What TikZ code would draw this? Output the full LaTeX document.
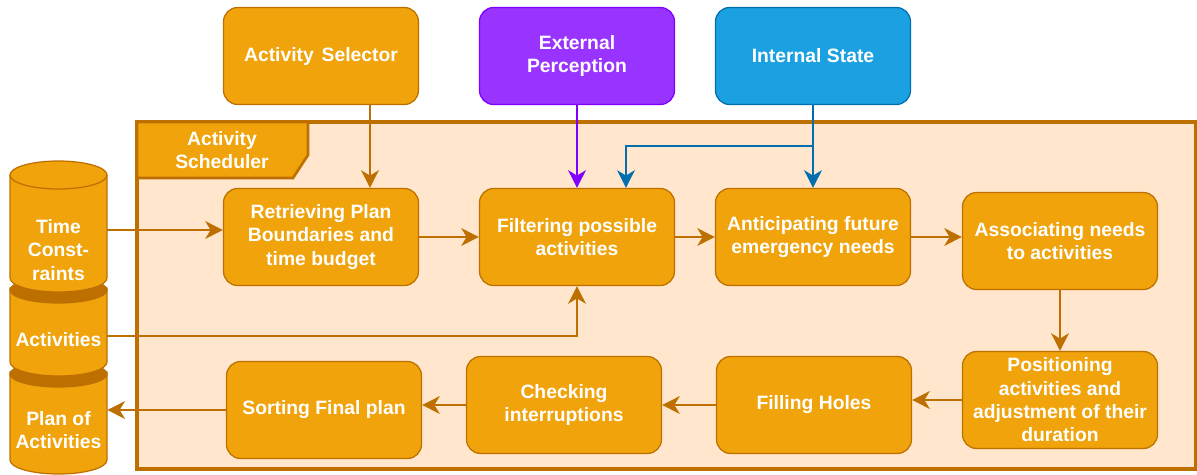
\documentclass[tikz,border=0pt]{standalone}
\usepackage{fontspec}
\setmainfont{Liberation Sans}
\usetikzlibrary{arrows.meta}
\definecolor{boxfill}{HTML}{F0A30A}
\definecolor{boxline}{HTML}{BD7000}
\definecolor{bgfill}{HTML}{FFE6CC}
\definecolor{purfill}{HTML}{9933FF}
\definecolor{purline}{HTML}{7F00FF}
\definecolor{bluefill}{HTML}{1BA1E2}
\definecolor{blueline}{HTML}{006EAF}

\begin{document}
\begin{tikzpicture}[x=0.02cm, y=-0.02cm, >={Stealth[length=10pt, width=10pt, inset=3pt]},
  font=\bfseries\fontsize{11}{13.3}\selectfont,
  blk/.style={draw=boxline, fill=boxfill, text=white, line width=0.7pt, rounded corners=8pt,
    minimum width=3.9cm, minimum height=1.94cm, align=center},
  link/.style={->, draw=boxline, line width=1.5pt},
  cyl/.style={draw=boxline, fill=boxfill, line width=0.7pt},
  lbl/.style={text=white, align=center, minimum width=1.94cm, inner sep=0pt}]

\useasboundingbox (0,0) rectangle (1197,474);

% scheduler frame
\draw[draw=boxline, fill=bgfill, line width=1.8pt] (137,122) rectangle (1196,469);
\draw[draw=boxline, fill=boxfill, line width=1.5pt] (137,122) -- (308,122) -- (308,155) -- (293,178) -- (137,178) -- cycle;
\node[text=white, align=center] (sched) at (222,150) {Activity\\Scheduler};

% data stores
\draw[cyl] (10,372) -- (10,460) arc[start angle=180, end angle=0, x radius=48.5, y radius=14] -- (107,372) -- cycle;
\draw[cyl, fill=boxline] (58.5,374) ellipse [x radius=48.5, y radius=13];
\draw[cyl] (10,288) -- (10,362) arc[start angle=180, end angle=0, x radius=48.5, y radius=14] -- (107,288) -- cycle;
\draw[cyl, fill=boxline] (58.5,290) ellipse [x radius=48.5, y radius=13];
\draw[cyl] (10,175) -- (10,278) arc[start angle=180, end angle=0, x radius=48.5, y radius=14] -- (107,175) arc[start angle=0, end angle=-180, x radius=48.5, y radius=14] -- cycle;
\draw[boxline, line width=0.7pt] (10,175) arc[start angle=180, end angle=0, x radius=48.5, y radius=14];

\node[lbl] (tcons) at (58.5,250) {Time\\Const-\\raints};
\node[lbl] (acts) at (58.5,340) {Activities};
\node[lbl] (plan) at (58.5,430) {Plan of\\Activities};

% inputs
\node[blk] (sel) at (321,56) {Activity\hspace{0.4em}Selector};
\node[blk, fill=purfill, draw=purline] (ext) at (577,56) {External\\Perception};
\node[blk, fill=bluefill, draw=blueline] (int) at (813,56) {Internal State};

% first row
\node[blk] (ret) at (321,237) {Retrieving Plan\\Boundaries and\\time budget};
\node[blk] (filt) at (577,237) {Filtering possible\\activities};
\node[blk] (ant) at (813,237) {Anticipating future\\emergency needs};
\node[blk] (asc) at (1060,241) {Associating needs\\to activities};

% second row
\node[blk] (pos) at (1060,400) {Positioning\\activities and\\adjustment of their\\duration};
\node[blk] (fill) at (814,405) {Filling Holes};
\node[blk] (chk) at (564,405) {Checking\\interruptions};
\node[blk] (sort) at (324,410) {Sorting Final plan};

% connectors
\draw[link] ([xshift=0.98cm]sel.south) -- ([xshift=0.98cm]ret.north);
\draw[link, draw=purline] (ext.south) -- (filt.north);
\draw[link, draw=blueline] (int.south) -- (ant.north);
\draw[link, draw=blueline] (int.south |- 0,146) -| ([xshift=0.98cm]filt.north);

\draw[link] (tcons.east |- 0,230) -- (ret.west |- 0,230);
\draw[link] (acts.east |- 0,336) -| (filt.south);
\draw[link] (ret.east) -- (filt.west);
\draw[link] (filt.east) -- (ant.west);
\draw[link] (ant.east) -- (ant.east -| asc.west);
\draw[link] (asc.south) -- (pos.north);
\draw[link] (pos.west) -- (pos.west -| fill.east);
\draw[link] (fill.west) -- (chk.east);
\draw[link] (chk.west) -- (chk.west -| sort.east);
\draw[link] (sort.west) -- (sort.west -| plan.east);

\end{tikzpicture}
\end{document}
